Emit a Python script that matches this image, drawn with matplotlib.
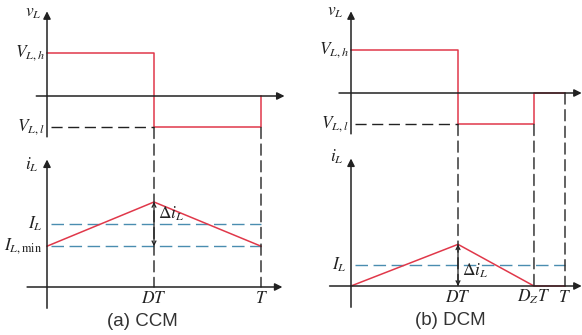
import matplotlib
matplotlib.use("Agg")
import matplotlib.pyplot as plt
from matplotlib.patches import ConnectionPatch

plt.rcParams['mathtext.fontset'] = 'stix'

# ---- data (normalised: T = 1) ----
T = 1.0
D_ccm = 0.5
D_dcm = 0.5
Dz_dcm = 0.855
VLh = 1.0
VLl = -0.73
# CCM current (units: peak of CCM = 1)
I_min_ccm = 0.48
I_avg_ccm = 0.74
I_max_ccm = 1.0
# DCM current
I_max_dcm = 0.49
I_avg_dcm = 0.25

W, H = 582, 335
fig = plt.figure(figsize=(W / 100, H / 100), dpi=100)
fig.patch.set_facecolor('white')

RED = '#e0384a'
BLUE = '#4a8db0'
AX = '#222222'
xscale = 214.0


def make_axes(x0, y0, yscale, xlim, ylim):
    left = (x0 + xlim[0] * xscale) / W
    width = (xlim[1] - xlim[0]) * xscale / W
    bottom = (H - (y0 - ylim[0] * yscale)) / H
    height = (ylim[1] - ylim[0]) * yscale / H
    ax = fig.add_axes([left, bottom, width, height])
    ax.set_xlim(*xlim)
    ax.set_ylim(*ylim)
    ax.axis('off')
    return ax


def arrow_axis(ax, start, end):
    ax.annotate('', xy=end, xytext=start,
                arrowprops=dict(arrowstyle='-|>', color=AX, lw=1.1,
                                mutation_scale=11, shrinkA=0, shrinkB=0),
                annotation_clip=False)


def vdash(axv, axi, t, v0):
    con = ConnectionPatch(xyA=(t, v0), coordsA=axv.transData,
                          xyB=(t, 0), coordsB=axi.transData,
                          color=AX, lw=1.0, linestyle=(0, (8, 4)))
    fig.add_artist(con)


tx = dict(fontsize=12.5, color='#222222')
cap = dict(fontsize=13.5, family='Liberation Sans', color='#333333')

# ================= CCM =================
av = make_axes(47, 96, 43.0, (-0.22, 1.2), (-1.0, 2.2))
ai = make_axes(47, 287, 85.0, (-0.22, 1.2), (-0.5, 1.65))

arrow_axis(av, (0, -0.95), (0, 1.97))
arrow_axis(av, (-0.05, 0), (1.11, 0))
av.plot([0, D_ccm, D_ccm, T, T], [VLh, VLh, VLl, VLl, 0], color=RED, lw=1.1)
av.plot([0.02, D_ccm], [VLl, VLl], color=AX, lw=1.0, linestyle=(0, (8, 4)))
av.text(-0.065, 1.95, r'$v_L$', ha='center', va='center', **tx)
av.text(-0.01, VLh, r'$V_{L,h}$', ha='right', va='center', **tx)
av.text(-0.01, VLl, r'$V_{L,l}$', ha='right', va='center', **tx)

arrow_axis(ai, (0, -0.25), (0, 1.5))
arrow_axis(ai, (-0.093, 0), (1.1, 0))
ai.plot([0.02, T], [I_avg_ccm, I_avg_ccm], color=BLUE, lw=1.0, linestyle=(0, (9, 4)))
ai.plot([0.02, T], [I_min_ccm, I_min_ccm], color=BLUE, lw=1.0, linestyle=(0, (9, 4)))
ai.plot([0, D_ccm, T], [I_min_ccm, I_max_ccm, I_min_ccm], color=RED, lw=1.1)
ai.annotate('', xy=(D_ccm, I_min_ccm), xytext=(D_ccm, I_max_ccm),
            arrowprops=dict(arrowstyle='<->', color=AX, lw=0.9,
                            mutation_scale=7, shrinkA=0, shrinkB=0))
ai.text(D_ccm + 0.02, 0.86, r'$\Delta i_L$', ha='left', va='center', **tx)
ai.text(-0.07, 1.44, r'$i_L$', ha='center', va='center', **tx)
ai.text(-0.02, I_avg_ccm, r'$I_L$', ha='right', va='center', **tx)
ai.text(-0.02, I_min_ccm, r'$I_{L,\mathrm{min}}$', ha='right', va='center', **tx)
ai.text(D_ccm, -0.02, r'$DT$', ha='center', va='top', **tx)
ai.text(T, -0.02, r'$T$', ha='center', va='top', **tx)
ai.text(0.446, -0.31, '(a) CCM', ha='center', va='top', **cap)

vdash(av, ai, D_ccm, VLl)
vdash(av, ai, T, VLl)

# ================= DCM =================
bv = make_axes(351, 93, 43.0, (-0.22, 1.1), (-1.0, 2.2))
bi = make_axes(351, 286, 85.0, (-0.22, 1.1), (-0.5, 1.65))

arrow_axis(bv, (0, -0.95), (0, 1.9))
arrow_axis(bv, (-0.056, 0), (1.078, 0))
bv.plot([0, D_dcm, D_dcm, Dz_dcm, Dz_dcm, T], [VLh, VLh, VLl, VLl, 0, 0],
        color=RED, lw=1.1)
bv.plot([0.02, D_dcm], [VLl, VLl], color=AX, lw=1.0, linestyle=(0, (8, 4)))
bv.text(-0.075, 1.9, r'$v_L$', ha='center', va='center', **tx)
bv.text(-0.01, VLh, r'$V_{L,h}$', ha='right', va='center', **tx)
bv.text(-0.01, VLl, r'$V_{L,l}$', ha='right', va='center', **tx)

arrow_axis(bi, (0, -0.25), (0, 1.5))
arrow_axis(bi, (-0.1, 0), (1.078, 0))
bi.plot([0.02, T], [I_avg_dcm, I_avg_dcm], color=BLUE, lw=1.0, linestyle=(0, (9, 4)))
bi.plot([0, D_dcm, Dz_dcm, T], [0, I_max_dcm, 0, 0], color=RED, lw=1.1)
bi.annotate('', xy=(D_dcm, 0), xytext=(D_dcm, I_max_dcm),
            arrowprops=dict(arrowstyle='<->', color=AX, lw=0.9,
                            mutation_scale=7, shrinkA=0, shrinkB=0))
bi.text(D_dcm + 0.02, 0.18, r'$\Delta i_L$', ha='left', va='center', **tx)
bi.text(-0.065, 1.52, r'$i_L$', ha='center', va='center', **tx)
bi.text(-0.02, I_avg_dcm, r'$I_L$', ha='right', va='center', **tx)
bi.text(D_dcm, -0.02, r'$DT$', ha='center', va='top', **tx)
bi.text(Dz_dcm, -0.02, r'$D_ZT$', ha='center', va='top', **tx)
bi.text(T, -0.02, r'$T$', ha='center', va='top', **tx)
bi.text(0.463, -0.31, '(b) DCM', ha='center', va='top', **cap)

vdash(bv, bi, D_dcm, VLl)
vdash(bv, bi, Dz_dcm, VLl)
vdash(bv, bi, T, 0)

fig.savefig('out.png', dpi=100)
